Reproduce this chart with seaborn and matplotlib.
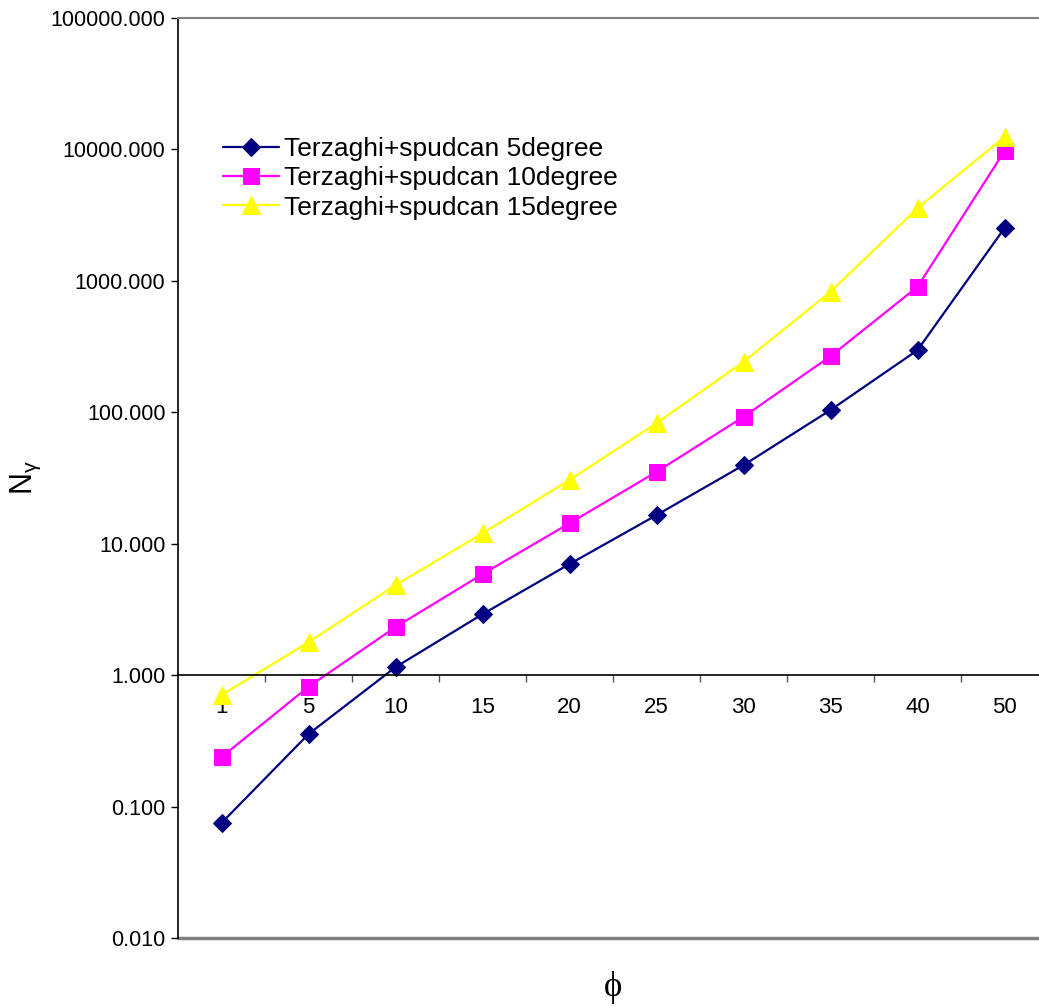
import numpy as np
import pandas as pd
import matplotlib
matplotlib.use("Agg")
import matplotlib.pyplot as plt
from matplotlib.ticker import FixedLocator, FuncFormatter, NullLocator
import seaborn as sns

# Friction angle categories (degrees)
phi = ["1", "5", "10", "15", "20", "25", "30", "35", "40", "50"]

# Bearing capacity factor N_gamma for three spudcan cone angles
ng_5deg = [0.075, 0.356, 1.15, 2.91, 7.0, 16.5, 39.6, 104, 297, 2520]
ng_10deg = [0.238, 0.815, 2.32, 5.87, 14.3, 35.2, 92.3, 267, 901, 9700]
ng_15deg = [0.705, 1.78, 4.84, 12.0, 30.5, 82.6, 242, 825, 3575, 12450]

series_names = [
    "Terzaghi+spudcan 5degree",
    "Terzaghi+spudcan 10degree",
    "Terzaghi+spudcan 15degree",
]

df = pd.concat(
    [
        pd.DataFrame({"phi": phi, "N": vals, "series": name})
        for name, vals in zip(series_names, [ng_5deg, ng_10deg, ng_15deg])
    ],
    ignore_index=True,
)

sns.set_theme(style="white")
plt.rcParams["font.family"] = ["Liberation Sans", "DejaVu Sans"]
plt.rcParams["text.color"] = "black"
plt.rcParams["axes.labelcolor"] = "black"
plt.rcParams["xtick.color"] = "black"
plt.rcParams["ytick.color"] = "black"

fig = plt.figure(figsize=(10.39, 10.07), dpi=100)
ax = fig.add_axes([178 / 1039, 69 / 1007, 870 / 1039, 920 / 1007])

palette = {series_names[0]: "#000080", series_names[1]: "#FF00FF", series_names[2]: "#FFFF00"}
markers = {series_names[0]: "D", series_names[1]: "s", series_names[2]: "^"}
sizes_pt = {series_names[0]: 9.5, series_names[1]: 11, series_names[2]: 12.5}

for name in series_names:
    sub = df[df["series"] == name]
    sns.lineplot(
        data=sub, x="phi", y="N", ax=ax, color=palette[name], marker=markers[name],
        markersize=sizes_pt[name], markeredgecolor=palette[name], linewidth=1.6,
        label=name, sort=False,
    )

ax.set_yscale("log")
ax.set_ylim(0.01, 100000)
ax.set_xlim(-0.5, len(phi) - 0.5)

# Y axis: decades with three decimals
ax.yaxis.set_major_locator(FixedLocator([10.0 ** k for k in range(-2, 6)]))
ax.yaxis.set_minor_locator(NullLocator())
ax.yaxis.set_major_formatter(FuncFormatter(lambda v, p: f"{v:.3f}"))
ax.tick_params(axis="y", which="major", direction="out", length=5, width=1,
               color="#000000", labelsize=15.5, pad=4, left=True)

# X axis crosses at N = 1, with ticks between categories
ax.spines["bottom"].set_position(("data", 1))
ax.spines["bottom"].set_color("#000000")
ax.spines["bottom"].set_linewidth(1.2)
ax.spines["left"].set_color("#000000")
ax.spines["left"].set_linewidth(1.2)
ax.spines["top"].set_color("#808080")
ax.spines["top"].set_linewidth(1.5)
ax.spines["right"].set_color("#808080")
ax.axhline(0.01, color="#808080", linewidth=2.5, clip_on=False, zorder=0)

ax.set_xticks(range(len(phi)))
ax.set_xticklabels(phi)
ax.xaxis.set_minor_locator(FixedLocator(np.arange(0.5, len(phi) - 0.5, 1.0)))
ax.tick_params(axis="x", which="major", length=0, labelsize=16, pad=16, bottom=True)
ax.tick_params(axis="x", which="minor", direction="out", length=5, width=1,
               color="#555555", bottom=True)

ax.set_xlabel("ϕ", family=["Liberation Serif", "DejaVu Serif"], fontsize=25)
ax.xaxis.set_label_coords(0.5, -0.036)
ax.set_ylabel(r"N$_{\mathregular{\gamma}}$", fontsize=22)
ax.yaxis.set_label_coords(-0.155, 0.5)

ax.grid(False)

leg = ax.legend(
    loc="upper left", bbox_to_anchor=(0.0397, 0.882), frameon=False, fontsize=19,
    handlelength=2.1, handletextpad=0.2, labelspacing=0.2, borderaxespad=0,
)

fig.savefig("out.png", dpi=100, facecolor="white")
